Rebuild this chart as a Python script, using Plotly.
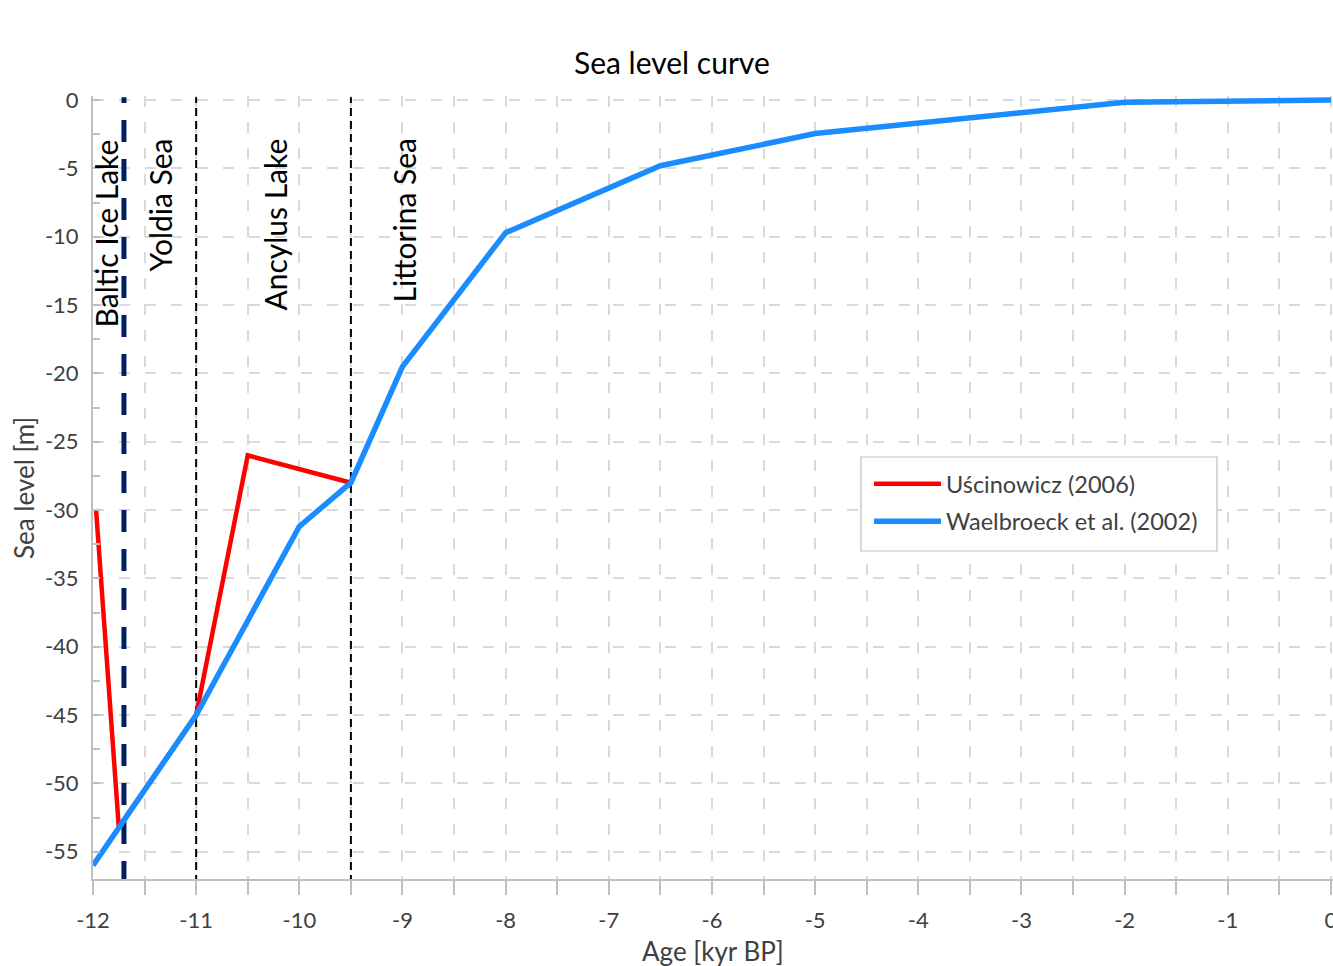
import plotly.graph_objects as go

# ---- data ----
usc_age = [-11.97, -11.75, -11.0, -10.5, -9.5]
usc_level = [-30.0, -53.2, -45.0, -26.0, -28.0]

wael_age = [-12.0, -11.0, -10.0, -9.5, -9.0, -8.0, -6.5, -5.0, -2.0, 0.0]
wael_level = [-56.0, -45.0, -31.2, -28.0, -19.5, -9.7, -4.8, -2.45, -0.15, 0.0]

boundary_ages = [-11.7, -11.0, -9.5]
stage_names = ["Baltic Ice Lake", "Yoldia Sea", "Ancylus Lake", "Littorina Sea"]
stage_label_x = [-11.87, -11.35, -10.24, -8.99]

x_ticks = list(range(-12, 1))
y_ticks = list(range(0, -60, -5))

FONT = "Lato"
GRID = "#d9d9d9"
AXIS = "#bfbfbf"
TXT = "#404040"

W, H = 1333, 966
pl, pr, pt, pb = 93, 0, 96, 87
pw, ph = W - pl - pr, H - pt - pb


def fx(xp):
    return (xp - pl) / pw


def fy(yp):
    return (H - yp - pb) / ph


fig = go.Figure()
fig.add_trace(go.Scatter(x=usc_age, y=usc_level, mode="lines", name="Uścinowicz (2006)",
                         line=dict(color="#ff0000", width=4.5), legendgroup="a"))
fig.add_trace(go.Scatter(x=wael_age, y=wael_level, mode="lines", name="Waelbroeck et al. (2002)",
                         line=dict(color="#1a8cff", width=5.5), legendgroup="b"))

shapes = []
for i, a in enumerate(boundary_ages):
    if i == 0:
        ln = dict(color="#002060", width=5, dash="22px,17px")
    else:
        ln = dict(color="#000000", width=2, dash="8px,5px")
    shapes.append(dict(type="line", xref="x", yref="y", x0=a, x1=a, y0=-57.3, y1=0.2,
                       line=ln, layer="between"))
# legend frame
shapes.append(dict(type="rect", xref="paper", yref="paper",
                   x0=fx(861), x1=fx(1217), y0=fy(551), y1=fy(457),
                   fillcolor="white", line=dict(color=AXIS, width=1.2), layer="above"))

annotations = []
for name, xa in zip(stage_names, stage_label_x):
    annotations.append(dict(x=xa, y=-2.7, xref="x", yref="y", text=name, textangle=-90,
                            xanchor="center", yanchor="top", showarrow=False,
                            font=dict(family=FONT, size=30, color="#000000")))


def px_ann(xp, yp, text, size, color, angle=0):
    return dict(x=fx(xp), y=fy(yp), xref="paper", yref="paper",
                text=text, textangle=angle, showarrow=False,
                xanchor="center", yanchor="middle",
                font=dict(family=FONT, size=size, color=color))


annotations.append(px_ann(672, 62, "Sea level curve", 30, "#000000"))
annotations.append(px_ann(24, 488, "Sea level [m]", 26, TXT, -90))
annotations.append(px_ann(713, 951, "Age [kyr BP]", 26, TXT))

leg_left, leg_top = 869, 462

fig.update_layout(
    width=W, height=H,
    margin=dict(l=pl, r=pr, t=pt, b=pb),
    paper_bgcolor="white", plot_bgcolor="white",
    showlegend=True,
    shapes=shapes,
    annotations=annotations,
    legend=dict(x=fx(leg_left), y=fy(leg_top), xanchor="left", yanchor="top",
                bgcolor="rgba(0,0,0,0)", borderwidth=0,
                font=dict(family=FONT, size=23.5, color=TXT),
                itemwidth=67, tracegroupgap=4, traceorder="grouped"),
    xaxis=dict(range=[-12, 0.02], tickvals=x_ticks, ticktext=[str(v) for v in x_ticks],
               ticks="outside", ticklen=14, tickcolor=AXIS, tickwidth=1.5,
               showgrid=True, gridcolor=GRID, gridwidth=2, griddash="11px,15px",
               minor=dict(dtick=0.5, tick0=0, ticks="outside", ticklen=14, tickcolor=AXIS,
                          tickwidth=1.5, showgrid=True, gridcolor=GRID, gridwidth=2,
                          griddash="11px,15px"),
               showline=True, linecolor=AXIS, linewidth=2, zeroline=False,
               tickfont=dict(family=FONT, size=22, color=TXT), automargin=False,
               ticklabelstandoff=7, ticklabeloverflow="allow"),
    yaxis=dict(range=[-57, 0.3], tickvals=y_ticks, ticktext=[str(v) for v in y_ticks],
               ticks="", showgrid=True, gridcolor=GRID, gridwidth=2, griddash="11px,15px",
               minor=dict(dtick=2.5, tick0=0, ticks="inside", ticklen=7, tickcolor=AXIS,
                          tickwidth=1.5, showgrid=False),
               showline=True, linecolor=AXIS, linewidth=2, zeroline=False,
               tickfont=dict(family=FONT, size=22, color=TXT), automargin=False,
               ticklabelstandoff=8),
)

fig.write_html("out.html", config={"displayModeBar": False},
               post_script="document.body.style.margin='0px';document.body.style.overflow='hidden';")
